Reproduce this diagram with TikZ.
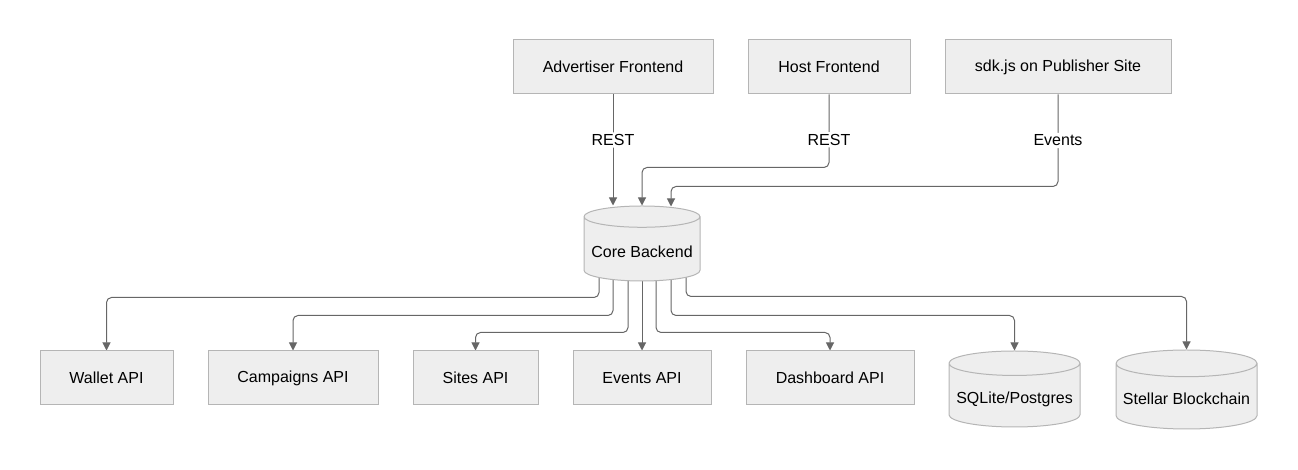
\documentclass[tikz,border=0pt]{standalone}
\usepackage{fontspec}
\setmainfont{Liberation Sans}
\usetikzlibrary{positioning,calc,shapes.geometric,backgrounds,arrows.meta}
\definecolor{BoxFill}{HTML}{EEEEEE}
\definecolor{BoxLine}{HTML}{B5B5B5}
\definecolor{LinkGray}{HTML}{666666}
\newdimen\pxu \pxu=0.75pt

\begin{document}
\begin{tikzpicture}[
		x=0.75pt, y=0.75pt,
		box/.style={draw=BoxLine, fill=BoxFill, line width=1\pxu, minimum width=#1\pxu, minimum height=54\pxu, inner sep=0pt, font=\fontsize{12}{14}\selectfont},
		store/.style 2 args={cylinder, shape border rotate=90, aspect=0.21, anchor=shape center, draw=BoxLine, fill=BoxFill, line width=1\pxu, minimum width=#1\pxu, minimum height=#2\pxu, inner sep=0pt, text height=15pt, text depth=2.5pt, font=\fontsize{12}{14}\selectfont},
		link/.style={draw=LinkGray, line width=1\pxu, rounded corners=5\pxu, -{Triangle[length=6pt, width=6pt]}},
		tag/.style={fill=white, inner sep=2\pxu, font=\fontsize{12}{14}\selectfont},
		]
		\useasboundingbox (0,0) rectangle (1298,470);
		
		% ===== clients =====
		\foreach \name/\x/\w/\txt in {adv/613/200/Advertiser Frontend, host/829/162/Host Frontend, sdk/1058/226/sdk.js on Publisher Site}{
			\node[box=\w] (\name) at (\x,403) {\txt};
		}
		
		% ===== backend =====
		\node[store={116}{75}] (core) at (642,226.5) {Core Backend};
		
		% ===== services =====
		\foreach \name/\x/\w/\txt in {wallet/106.5/133/Wallet API, camp/293/170/Campaigns API, sites/475.5/125/Sites API, events/642/138/Events API, dash/830/168/Dashboard API}{
			\node[box=\w] (\name) at (\x,92) {\txt};
		}
		\node[store={131}{76}] (sql) at (1014.5,81) {SQLite/Postgres};
		\node[store={141}{79}] (stellar) at (1186.5,80.5) {Stellar Blockchain};
		
		% ===== connectors =====
		\begin{scope}[on background layer]
			\draw[link] (adv.south) -- node[tag, pos=0.41] {REST} (core.north -| adv.south);
			\draw[link] (host.south) |- node[tag, pos=0.31] {REST} ($(core.north)+(0,38)$) -- (core.north);
			\draw[link] (sdk.south) |- node[tag, pos=0.25] {Events} ($(core.north)+(29,19)$) -- ($(core.north)+(29,-1)$);
			\foreach \dst/\dx/\rise in {wallet/-43/53, camp/-29/35, sites/-14/18, dash/14/18, sql/29/35, stellar/44/53}{
				\draw[link] ($(core.shape center)+(\dx,0)$) |- ($(\dst.north)+(0,\rise)$) -- (\dst.north);
			}
			\draw[link] (core.shape center) -- (events.north);
		\end{scope}
		
	\end{tikzpicture}
\end{document}
